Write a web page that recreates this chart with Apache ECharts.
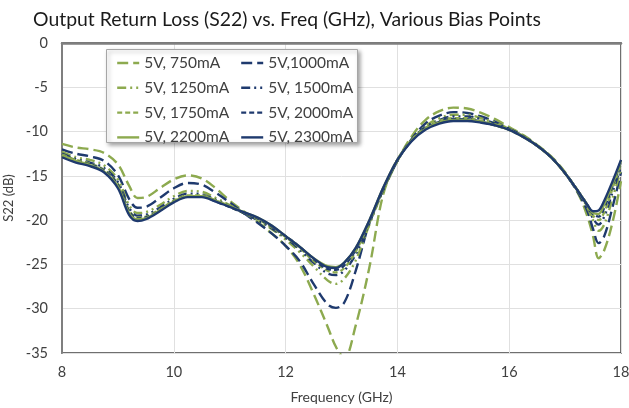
<!DOCTYPE html>
<html>
<head>
<meta charset="utf-8">
<script src="https://cdn.jsdelivr.net/npm/echarts@6/dist/echarts.min.js"></script>
<style>
  html, body { margin: 0; padding: 0; background: #fff; }
  #chart { width: 629px; height: 408px; }
</style>
</head>
<body>
<div id="chart"></div>
<script>
// Frequency points (GHz) shared by all traces
const freq = [8, 8.25, 8.5, 8.75, 9, 9.2, 9.35, 9.5, 9.75, 10, 10.25, 10.5, 10.75, 11, 11.25, 11.5, 11.75,
  12, 12.25, 12.5, 12.75, 12.9, 13.05, 13.25, 13.5, 13.75, 14, 14.25, 14.5, 14.75, 15, 15.25, 15.5, 15.75,
  16, 16.25, 16.5, 16.75, 17, 17.25, 17.4, 17.5, 17.6, 17.7, 17.85, 18];

// S22 (dB) per bias point
const s22_750 = [-11.4, -11.8, -12.0, -12.4, -13.7, -16.1, -17.5, -17.4, -16.4, -15.4, -14.95, -15.3, -16.4, -17.8, -19.0, -20.2, -21.5,
  -22.9, -25.0, -28.3, -32.0, -34.3, -35.6, -32.0, -25.3, -17.0, -13.3, -10.6, -8.7, -7.7, -7.3, -7.4, -7.9, -8.6,
  -9.5, -10.4, -11.5, -12.8, -14.6, -17.2, -19.6, -21.8, -24.3, -23.4, -20.2, -15.6];
const s22_1000 = [-12.0, -12.5, -12.8, -13.3, -14.9, -17.6, -18.6, -18.5, -17.5, -16.4, -15.8, -16.0, -16.9, -18.0, -19.2, -20.3, -21.5,
  -22.9, -24.6, -27.2, -29.5, -29.9, -29.3, -25.8, -20.3, -16.5, -13.3, -10.9, -9.1, -8.2, -7.8, -7.9, -8.3, -8.9,
  -9.7, -10.5, -11.6, -12.9, -14.7, -17.1, -19.0, -21.0, -22.6, -21.8, -18.5, -14.6];
const s22_1250 = [-12.3, -12.9, -13.2, -13.8, -15.4, -18.3, -19.2, -19.1, -18.3, -17.3, -16.7, -16.8, -17.5, -18.3, -19.2, -20.0, -21.0,
  -22.2, -23.6, -25.2, -26.8, -27.2, -26.6, -24.6, -20.5, -16.6, -13.3, -11.0, -9.4, -8.5, -8.1, -8.1, -8.5, -9.0,
  -9.7, -10.5, -11.6, -12.9, -14.7, -16.9, -18.6, -20.0, -21.2, -20.5, -17.5, -14.3];
const s22_1500 = [-12.5, -13.1, -13.5, -14.1, -15.7, -18.6, -19.5, -19.4, -18.6, -17.6, -17.0, -17.1, -17.7, -18.4, -19.2, -20.0, -20.9,
  -22.0, -23.3, -24.8, -26.0, -26.2, -25.7, -23.9, -20.3, -16.5, -13.3, -11.0, -9.5, -8.7, -8.3, -8.3, -8.6, -9.1,
  -9.7, -10.5, -11.6, -12.9, -14.7, -16.9, -18.4, -19.8, -20.5, -19.6, -16.8, -13.9];
const s22_1750 = [-12.6, -13.2, -13.6, -14.3, -15.9, -18.9, -19.7, -19.6, -18.8, -17.8, -17.2, -17.2, -17.8, -18.5, -19.2, -19.9, -20.8,
  -21.9, -23.1, -24.6, -25.7, -25.9, -25.4, -23.6, -20.2, -16.4, -13.2, -11.0, -9.6, -8.8, -8.5, -8.5, -8.8, -9.2,
  -9.8, -10.5, -11.6, -12.9, -14.7, -16.9, -18.3, -19.5, -20.0, -19.1, -16.4, -13.6];
const s22_2000 = [-12.7, -13.3, -13.7, -14.4, -16.0, -19.0, -19.8, -19.7, -18.9, -17.9, -17.3, -17.3, -17.9, -18.5, -19.2, -19.8, -20.7,
  -21.8, -23.0, -24.4, -25.5, -25.6, -25.1, -23.4, -20.1, -16.4, -13.2, -11.0, -9.7, -8.9, -8.6, -8.6, -8.9, -9.3,
  -9.8, -10.6, -11.6, -12.9, -14.7, -16.9, -18.3, -19.3, -19.6, -18.6, -16.1, -13.4];
const s22_2200 = [-12.7, -13.3, -13.8, -14.5, -16.2, -19.2, -19.9, -19.8, -18.9, -17.9, -17.3, -17.3, -17.8, -18.4, -19.1, -19.7, -20.6,
  -21.8, -23.0, -24.3, -25.2, -25.3, -24.8, -23.2, -20.0, -16.3, -13.2, -11.0, -9.7, -9.0, -8.7, -8.7, -8.9, -9.3,
  -9.8, -10.6, -11.6, -12.9, -14.7, -16.9, -18.3, -19.2, -19.3, -18.2, -15.9, -13.3];
const s22_2300 = [-12.9, -13.5, -13.9, -14.6, -16.4, -19.4, -20.1, -19.9, -19.0, -18.0, -17.4, -17.4, -17.9, -18.5, -19.1, -19.7, -20.6,
  -21.8, -23.0, -24.3, -25.3, -25.4, -24.8, -23.2, -20.0, -16.3, -13.2, -11.1, -9.8, -9.1, -8.8, -8.8, -9.0, -9.3,
  -9.8, -10.6, -11.6, -12.9, -14.7, -16.9, -18.3, -19.0, -18.9, -17.8, -15.6, -13.2];

const seriesNames = ['5V, 750mA', '5V,1000mA', '5V, 1250mA', '5V, 1500mA', '5V, 1750mA', '5V, 2000mA', '5V, 2200mA', '5V, 2300mA'];
const seriesValues = [s22_750, s22_1000, s22_1250, s22_1500, s22_1750, s22_2000, s22_2200, s22_2300];

const xTicks = [8, 10, 12, 14, 16, 18];
const yTicks = [0, -5, -10, -15, -20, -25, -30, -35];

const GREEN = '#8DAA4F';
const NAVY = '#1F3A6E';
const longDash = [11, 5];
const dashDotDot = [9, 4, 2, 4, 2, 4];
const shortDash = [5, 3];
const styles = [
  { color: GREEN, type: longDash },
  { color: NAVY, type: longDash },
  { color: GREEN, type: dashDotDot },
  { color: NAVY, type: dashDotDot },
  { color: GREEN, type: shortDash },
  { color: NAVY, type: shortDash },
  { color: GREEN, type: 'solid' },
  { color: NAVY, type: 'solid' }
];

const FONT = 'Lato, "Open Sans", sans-serif';

const series = seriesNames.map((name, i) => ({
  name: name,
  type: 'line',
  data: freq.map((f, j) => [f, seriesValues[i][j]]),
  smooth: 0.35,
  symbol: 'none',
  showSymbol: false,
  clip: true,
  color: styles[i].color,
  lineStyle: { color: styles[i].color, width: 2.4, type: styles[i].type }
}));

// Two legend columns sitting on one shared framed box
const legendCommon = {
  orient: 'vertical',
  top: 55,
  itemWidth: 22,
  itemHeight: 14,
  itemGap: 8.8,
  padding: 0,
  z: 20,
  itemStyle: { opacity: 0 },
  lineStyle: { width: 2.4 },
  textStyle: { fontFamily: FONT, fontSize: 15.5, color: '#404040' }
};

const chart = echarts.init(document.getElementById('chart'), null, { renderer: 'canvas' });
chart.setOption({
  animation: false,
  backgroundColor: '#ffffff',
  title: {
    text: 'Output Return Loss (S22) vs. Freq (GHz), Various Bias Points',
    left: 28,
    top: 5,
    textStyle: { fontFamily: FONT, fontSize: 19.4, fontWeight: 'normal', color: '#1a1a1a' }
  },
  grid: {
    left: 62, right: 8, top: 43, bottom: 55,
    outerBoundsMode: 'none',
    containLabel: false,
    show: true,
    borderColor: '#404040',
    borderWidth: 1.5,
    backgroundColor: 'transparent'
  },
  graphic: [{
    type: 'rect',
    z: 15,
    shape: { x: 106.5, y: 49.5, width: 251, height: 93 },
    style: {
      fill: '#ffffff',
      stroke: '#a6a6a6',
      lineWidth: 1,
      shadowColor: 'rgba(0,0,0,0.35)',
      shadowBlur: 4,
      shadowOffsetX: 2,
      shadowOffsetY: 2
    }
  }],
  legend: [
    Object.assign({}, legendCommon, { left: 116, data: [seriesNames[0], seriesNames[2], seriesNames[4], seriesNames[6]] }),
    Object.assign({}, legendCommon, { left: 240, data: [seriesNames[1], seriesNames[3], seriesNames[5], seriesNames[7]] })
  ],
  xAxis: {
    type: 'value',
    min: 8, max: 18, interval: 2,
    name: 'Frequency (GHz)',
    nameLocation: 'middle',
    nameGap: 37,
    nameTextStyle: { fontFamily: FONT, fontSize: 14, color: '#404040' },
    axisLine: { show: true, lineStyle: { color: '#7f7f7f', width: 2.5 } },
    axisTick: { show: false },
    axisLabel: {
      fontFamily: FONT, fontSize: 14.5, color: '#404040', margin: 12,
      formatter: v => (xTicks.indexOf(v) >= 0 ? String(v) : '')
    },
    splitLine: { show: true, lineStyle: { color: '#e0e0e0', width: 1 } }
  },
  yAxis: {
    type: 'value',
    min: -35, max: 0, interval: 5,
    name: 'S22 (dB)',
    nameLocation: 'middle',
    nameGap: 36,
    nameRotate: 90,
    nameTextStyle: { fontFamily: FONT, fontSize: 13, color: '#404040' },
    axisLine: { show: true, lineStyle: { color: '#7f7f7f', width: 2 } },
    axisTick: { show: false },
    axisLabel: {
      fontFamily: FONT, fontSize: 14.5, color: '#404040', margin: 14,
      formatter: v => (yTicks.indexOf(v) >= 0 ? String(v) : '')
    },
    splitLine: { show: true, lineStyle: { color: '#e0e0e0', width: 1 } }
  },
  series: series
});
</script>
</body>
</html>
